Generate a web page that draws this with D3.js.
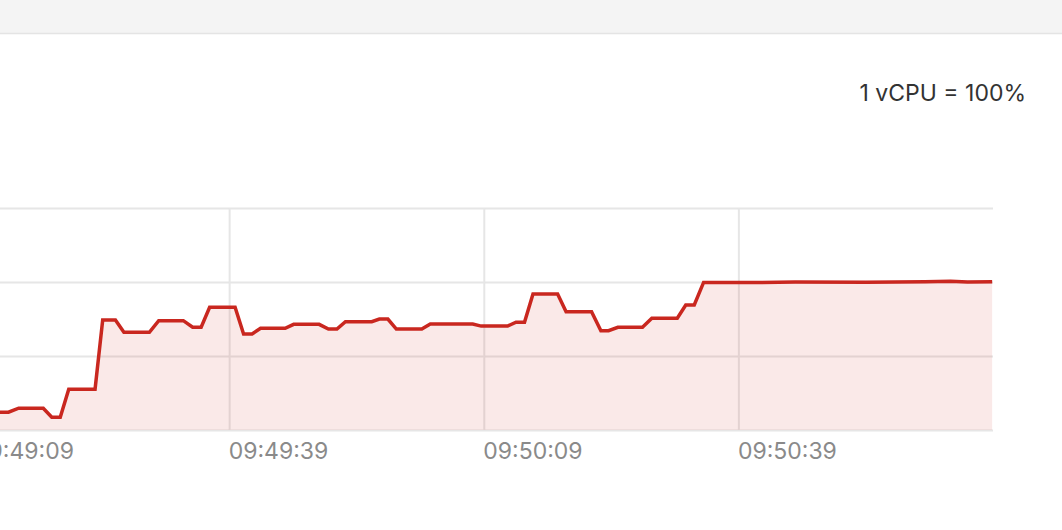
<!DOCTYPE html>
<html>
<head>
<meta charset="utf-8">
<script src="https://cdn.jsdelivr.net/npm/d3@7"></script>
<style>
  html, body { margin: 0; padding: 0; background: #fff; }
  svg { display: block; }
</style>
</head>
<body>
<svg id="chart" width="1062" height="530"></svg>
<script>
// ---- data ----
const baseTime = "2024-01-01T09:49:09";           // reference for sample offsets
const domainStart = "2024-01-01T09:49:12";
const domainEnd = "2024-01-01T09:51:09";
// seconds after 09:49:09
const sampleSeconds = [2.0, 4.0, 5.2, 8.1, 9.1, 10.1, 11.1, 14.2, 15.1, 16.6, 17.6, 20.6, 21.7, 24.6,
  25.7, 26.7, 27.7, 30.7, 31.7, 32.7, 33.7, 36.6, 37.6, 40.6, 41.7, 42.7, 43.7, 46.8, 47.7, 48.7,
  49.7, 52.7, 53.7, 58.7, 59.7, 62.8, 63.8, 64.8, 65.8, 68.7, 69.7, 72.7, 73.8, 74.7, 75.8, 78.7,
  79.8, 82.8, 83.8, 84.8, 85.9, 92.7, 96.7, 105.0, 112.0, 115.0, 117.0, 119.9];
// CPU usage, % (1 vCPU = 100%)
const cpuPercent = [12.0, 12.0, 14.7, 14.7, 8.6, 8.6, 27.5, 27.5, 74.3, 74.3, 66.0, 66.0, 73.9, 73.9,
  69.4, 69.4, 82.9, 82.9, 64.9, 64.9, 68.7, 68.7, 71.4, 71.4, 68.2, 68.2, 73.2, 73.2, 75.0, 75.0,
  68.2, 68.2, 71.6, 71.6, 70.2, 70.2, 72.8, 72.8, 91.9, 91.9, 79.9, 79.9, 67.1, 67.1, 69.4, 69.4,
  75.5, 75.5, 84.5, 84.5, 99.7, 99.7, 100.0, 99.9, 100.2, 100.5, 100.0, 100.1];
const tickLabels = ["09:49:09", "09:49:39", "09:50:09", "09:50:39"];
const yTicks = [0, 50, 100, 150];
const yMax = 150;
const noteText = "1 vCPU = 100%";

// ---- layout ----
const W = 1062, H = 530;
const plot = { left: 0, right: 993, top: 208, bottom: 430 };
const svg = d3.select("#chart");

const t0 = new Date(baseTime).getTime();
const data = sampleSeconds.map((s, i) => ({ t: new Date(t0 + s * 1000), v: cpuPercent[i] }));
const tickDates = tickLabels.map(l => new Date("2024-01-01T" + l));

const x = d3.scaleTime().domain([new Date(domainStart), new Date(domainEnd)]).range([plot.left, plot.right]);
const y = d3.scaleLinear().domain([0, yMax]).range([plot.bottom, plot.top]);

// top bar
svg.append("rect").attr("x", 0).attr("y", 0).attr("width", W).attr("height", 33).attr("fill", "#f4f4f4");
svg.append("line").attr("x1", 0).attr("x2", W).attr("y1", 33.5).attr("y2", 33.5)
  .attr("stroke", "#e4e4e4").attr("stroke-width", 1.5);

// note
svg.append("text").attr("x", 1026).attr("y", 101).attr("text-anchor", "end")
  .attr("font-family", "Inter, 'Liberation Sans', sans-serif").attr("font-size", 23)
  .attr("fill", "#333").text(noteText);

// horizontal grid
svg.append("g").attr("transform", `translate(${plot.left},0)`)
  .call(d3.axisLeft(y).tickValues(yTicks).tickSize(-(plot.right - plot.left)).tickFormat(""))
  .call(g => g.select(".domain").remove())
  .call(g => g.selectAll(".tick line").attr("stroke", "#e6e6e6").attr("stroke-width", 2));

// vertical grid + tick labels
const xAxis = svg.append("g").attr("transform", `translate(0,${plot.bottom})`)
  .call(d3.axisBottom(x).tickValues(tickDates).tickSize(-(plot.bottom - plot.top))
    .tickFormat((d, i) => tickLabels[i]))
  .call(g => g.select(".domain").remove());
xAxis.selectAll(".tick line").attr("stroke", "#e6e6e6").attr("stroke-width", 2);
xAxis.selectAll(".tick text")
  .attr("text-anchor", "start").attr("x", -1).attr("y", 29).attr("dy", 0)
  .attr("font-family", "Inter, 'Liberation Sans', sans-serif").attr("font-size", 23)
  .attr("fill", "#8a8a8a");

// clip
svg.append("clipPath").attr("id", "clip").append("rect")
  .attr("x", plot.left).attr("y", 0).attr("width", plot.right - plot.left).attr("height", H);

const area = d3.area().x(d => x(d.t)).y0(y(0)).y1(d => y(d.v)).curve(d3.curveLinear);
const line = d3.line().x(d => x(d.t)).y(d => y(d.v)).curve(d3.curveLinear);

svg.append("path").datum(data).attr("clip-path", "url(#clip)")
  .attr("d", area).attr("fill", "#cc2b22").attr("fill-opacity", 0.1);
svg.append("path").datum(data).attr("clip-path", "url(#clip)")
  .attr("d", line).attr("fill", "none").attr("stroke", "#c9271f")
  .attr("stroke-width", 3.5).attr("stroke-linejoin", "miter");
</script>
</body>
</html>
